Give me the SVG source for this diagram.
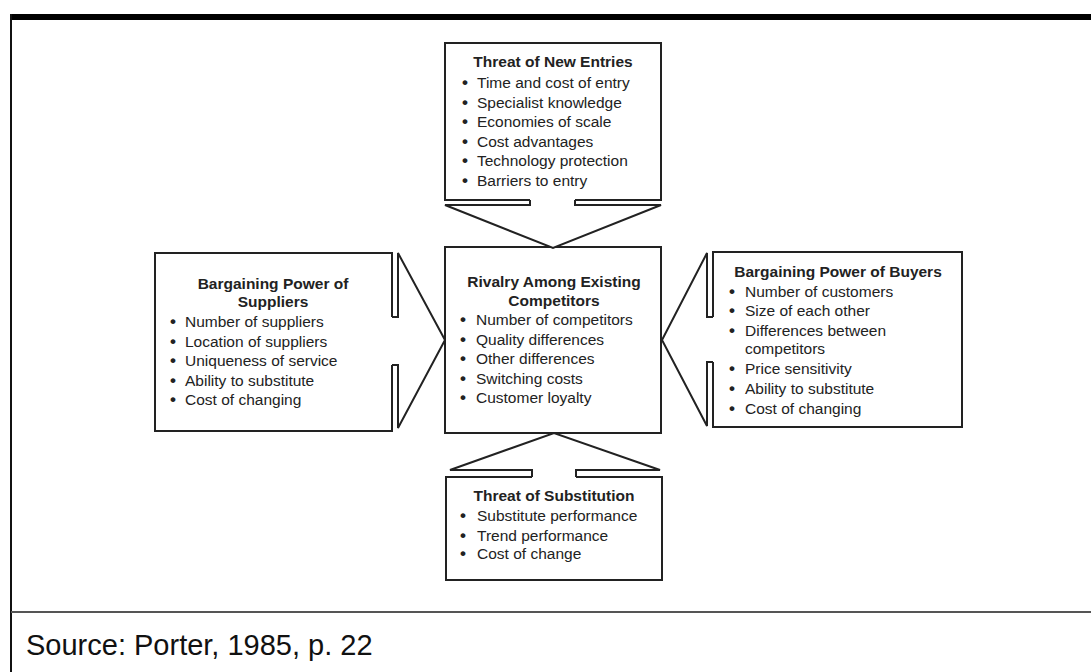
<svg xmlns="http://www.w3.org/2000/svg" width="1091" height="672" viewBox="0 0 1091 672">
<style>
.box{fill:#fff;stroke:#222;stroke-width:2}
.ol{fill:none;stroke:#222;stroke-width:2;stroke-linejoin:miter}
.wf{fill:#fff;stroke:none}
text{font-family:"Liberation Sans",Arial,sans-serif;fill:#222;font-size:15.5px}
.t{font-weight:bold;text-anchor:middle}
.b{text-anchor:middle;font-weight:bold;font-size:17px}
.src{font-size:29px;fill:#111}
</style>
<rect x="0" y="0" width="1091" height="672" fill="#fff"/>
<rect x="10" y="14" width="1081" height="6" fill="#000"/>
<line x1="11" y1="14" x2="11" y2="672" stroke="#111" stroke-width="2"/>
<line x1="11" y1="612" x2="1091" y2="612" stroke="#555" stroke-width="2"/>
<text class="src" x="26" y="655">Source: Porter, 1985, p. 22</text>

<g id="new-entries">
<rect class="box" x="445" y="43" width="216" height="157"/>
<text class="t" x="553" y="67">Threat of New Entries</text>
<g>
<text class="b" x="465" y="88">•</text><text x="477" y="88">Time and cost of entry</text>
<text class="b" x="465" y="107.5">•</text><text x="477" y="107.5">Specialist knowledge</text>
<text class="b" x="465" y="127">•</text><text x="477" y="127">Economies of scale</text>
<text class="b" x="465" y="146.5">•</text><text x="477" y="146.5">Cost advantages</text>
<text class="b" x="465" y="166">•</text><text x="477" y="166">Technology protection</text>
<text class="b" x="465" y="185.5">•</text><text x="477" y="185.5">Barriers to entry</text>
</g>
</g>

<g id="rivalry">
<rect class="box" x="445" y="247" width="216" height="186"/>
<text class="t" x="554" y="287">Rivalry Among Existing</text>
<text class="t" x="554" y="305.5">Competitors</text>
<text class="b" x="463" y="325">•</text><text x="476" y="325">Number of competitors</text>
<text class="b" x="463" y="344.5">•</text><text x="476" y="344.5">Quality differences</text>
<text class="b" x="463" y="364">•</text><text x="476" y="364">Other differences</text>
<text class="b" x="463" y="383.5">•</text><text x="476" y="383.5">Switching costs</text>
<text class="b" x="463" y="403">•</text><text x="476" y="403">Customer loyalty</text>
</g>

<g id="suppliers">
<rect class="box" x="155" y="253" width="237" height="178"/>
<text class="t" x="273" y="289">Bargaining Power of</text>
<text class="t" x="273" y="307">Suppliers</text>
<text class="b" x="173" y="327">•</text><text x="185" y="327">Number of suppliers</text>
<text class="b" x="173" y="346.5">•</text><text x="185" y="346.5">Location of suppliers</text>
<text class="b" x="173" y="366">•</text><text x="185" y="366">Uniqueness of service</text>
<text class="b" x="173" y="385.5">•</text><text x="185" y="385.5">Ability to substitute</text>
<text class="b" x="173" y="405">•</text><text x="185" y="405">Cost of changing</text>
</g>

<g id="buyers">
<rect class="box" x="713" y="252" width="249" height="175"/>
<text class="t" x="838" y="277">Bargaining Power of Buyers</text>
<text class="b" x="732" y="297">•</text><text x="745" y="297">Number of customers</text>
<text class="b" x="732" y="316">•</text><text x="745" y="316">Size of each other</text>
<text class="b" x="732" y="335.5">•</text><text x="745" y="335.5">Differences between</text>
<text x="745" y="354">competitors</text>
<text class="b" x="732" y="374">•</text><text x="745" y="374">Price sensitivity</text>
<text class="b" x="732" y="394">•</text><text x="745" y="394">Ability to substitute</text>
<text class="b" x="732" y="414">•</text><text x="745" y="414">Cost of changing</text>
</g>

<g id="substitution">
<rect class="box" x="446" y="477" width="216" height="103"/>
<text class="t" x="554" y="500.5">Threat of Substitution</text>
<text class="b" x="463" y="520.5">•</text><text x="477" y="520.5">Substitute performance</text>
<text class="b" x="463" y="540.5">•</text><text x="477" y="540.5">Trend performance</text>
<text class="b" x="463" y="559">•</text><text x="477" y="559">Cost of change</text>
</g>

<g id="connectors">
<polygon class="wf" points="530,198 530,205 445,205 553,248 661,205 575,205 575,198"/>
<polyline class="ol" points="530,200 530,205 445,205 553,248 661,205 575,205 575,200"/>
<polygon class="wf" points="390,317 398,317 398,253 445,340 398,428 398,365 390,365"/>
<polyline class="ol" points="392,317 398,317 398,253 445,340 398,428 398,365 392,365"/>
<polygon class="wf" points="715,317 707,317 707,253 662,340 707,426 707,362 715,362"/>
<polyline class="ol" points="713,317 707,317 707,253 662,340 707,426 707,362 713,362"/>
<polygon class="wf" points="532,479 532,470 450,470 554,433 660,470 576,470 576,479"/>
<polyline class="ol" points="532,477 532,470 450,470 554,433 660,470 576,470 576,477"/>
</g>
</svg>
